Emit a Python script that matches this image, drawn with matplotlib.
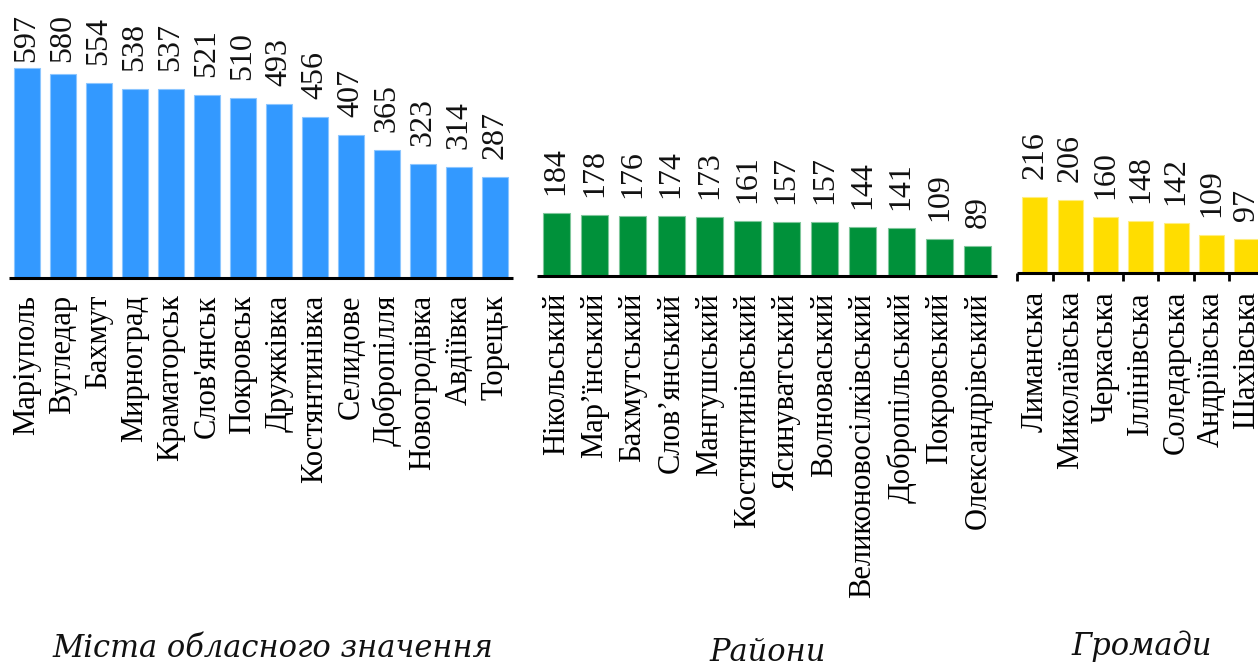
import matplotlib
matplotlib.use("Agg")
import matplotlib.pyplot as plt
from matplotlib.ticker import FixedLocator

cities = ["Маріуполь", "Вугледар", "Бахмут", "Мирноград", "Краматорськ", "Слов'янськ",
          "Покровськ", "Дружківка", "Костянтинівка", "Селидове", "Добропілля",
          "Новогродівка", "Авдіївка", "Торецьк"]
city_vals = [597, 580, 554, 538, 537, 521, 510, 493, 456, 407, 365, 323, 314, 287]

districts = ["Нікольський", "Мар’їнський", "Бахмутський", "Слов’янський", "Мангушський",
             "Костянтинівський", "Ясинуватський", "Волноваський", "Великоновосілківський",
             "Добропільський", "Покровський", "Олександрівський"]
district_vals = [184, 178, 176, 174, 173, 161, 157, 157, 144, 141, 109, 89]

communities = ["Лиманська", "Миколаївська", "Черкаська", "Іллінівська", "Солемарська",
               "Андріївська", "Шахівська"]
communities[4] = "Соледарська"
community_vals = [216, 206, 160, 148, 142, 109, 97]

group_titles = ["Міста обласного значення", "Райони", "Громади"]

W, H = 1258, 664
fig = plt.figure(figsize=(W / 100, H / 100), dpi=100)

serif = ["Liberation Serif", "DejaVu Serif"]

# (left px, width px, baseline px from top, px per unit, color, pad)
panels = [
    (cities, city_vals, 9, 504, 278, 0.352, "#3399FF", "#8CC6FF", 12),
    (districts, district_vals, 537, 460, 276, 0.342, "#00913A", "#7FC79B", 12),
    (communities, community_vals, 1017.3, 247, 273, 0.352, "#FFDD00", "#FFEE80", 13),
]

axes = []
for i, (labels, vals, left, width, base, ppu, col, ecol, pad) in enumerate(panels):
    ax = fig.add_axes([left / W, (H - base) / H, width / W, base / H])
    n = len(vals)
    x = list(range(n))
    ax.bar(x, vals, width=0.71, color=col, edgecolor=ecol, linewidth=0.8)
    ymax = base / ppu
    ax.set_ylim(0, ymax)
    ax.set_xlim(-0.5, n - 0.5)
    for s in ["top", "right", "left"]:
        ax.spines[s].set_visible(False)
    ax.spines["bottom"].set_linewidth(2.2)
    ax.spines["bottom"].set_capstyle("butt")
    ax.set_yticks([])
    ax.set_xticks(x)
    ax.set_xticklabels(labels, rotation=90, fontsize=22, family=serif)
    ax.tick_params(axis="x", which="major", length=0, pad=pad)
    if i == 2:
        ax.xaxis.set_minor_locator(FixedLocator([k - 0.5 for k in range(n + 1)]))
        ax.tick_params(axis="x", which="minor", length=5.5, width=2, color="black",
                       direction="out")
    # value labels (kept inside the top of the figure)
    gap = 18 / ppu
    top_limit = (base - 13) / ppu
    for xi, v in zip(x, vals):
        txt = str(v)
        length = 16.3 * len(txt) / ppu
        yb = min(v + gap, top_limit - length)
        ax.text(xi, yb, txt, rotation=90, ha="center", va="bottom",
                fontsize=23, family=serif, color="#111111")
    axes.append(ax)

title_pos = [(273, 657), (768, 661), (1141.5, 655)]
for t, (tx, ty) in zip(group_titles, title_pos):
    fig.text(tx / W, (H - ty) / H, t, ha="center", va="baseline", fontsize=22,
             family=["DejaVu Serif"], style="italic", color="#111111")

fig.savefig("out.png", dpi=100)
